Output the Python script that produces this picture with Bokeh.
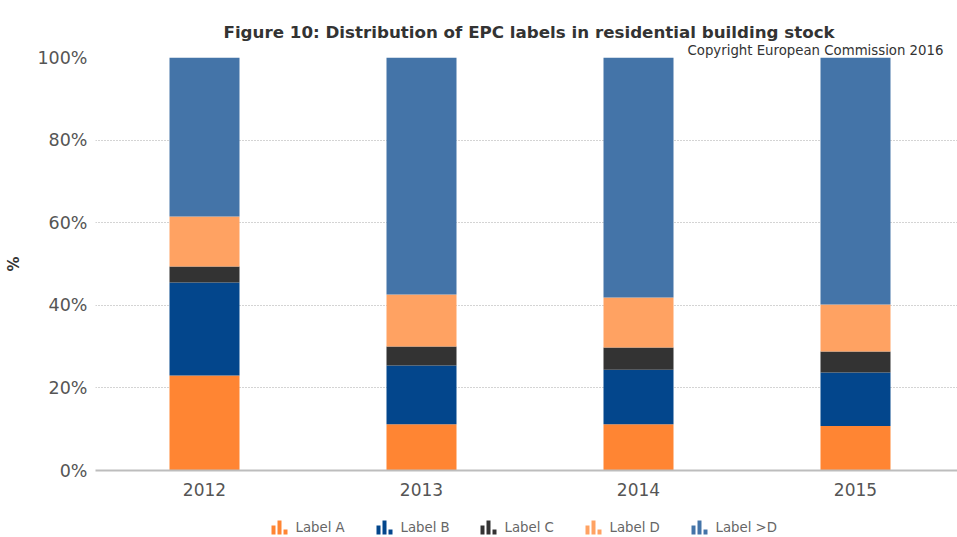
from bokeh.embed import file_html
from bokeh.resources import INLINE
from bokeh.layouts import column
from bokeh.plotting import figure
from bokeh.core.properties import value
from bokeh.models import (ColumnDataSource, Range1d, FixedTicker, Title)

years = [2012, 2013, 2014, 2015]
label_a = [23.0, 11.2, 11.2, 10.8]
label_b = [22.5, 14.2, 13.2, 12.9]
label_c = [3.9, 4.6, 5.4, 5.1]
label_d = [12.1, 12.6, 12.1, 11.4]
label_e = [38.5, 57.4, 58.1, 59.8]
series_names = ["Label A", "Label B", "Label C", "Label D", "Label >D"]
series_colors = ["#FF8533", "#03468C", "#333333", "#FFA262", "#4474A8"]
y_ticks = [0, 20, 40, 60, 80, 100]
title_text = "Figure 10: Distribution of EPC labels in residential building stock"
copyright_text = "Copyright European Commission 2016"

W = 957
LEG_H = 32
H = 537 - LEG_H
LEFT, TOP, BOTTOM = 95, 57, H - 470
FONT = "DejaVu Sans"

p = figure(width=W, height=H, output_backend="svg", toolbar_location=None,
           x_range=Range1d(2012 - 109 / 217, 2012 + 753 / 217), y_range=Range1d(0, 100),
           min_border_left=LEFT, min_border_right=0, min_border_top=TOP, min_border_bottom=BOTTOM)
p.outline_line_color = None
p.background_fill_color = "white"

src = ColumnDataSource(dict(year=years, a=label_a, b=label_b, c=label_c, d=label_d, e=label_e))
p.vbar_stack(["a", "b", "c", "d", "e"], x="year", width=70 / 217, source=src,
             color=series_colors, line_color=None)

p.xgrid.visible = False
p.ygrid.grid_line_color = "#A8A8A8"
p.ygrid.grid_line_dash = "1 2"
p.ygrid.grid_line_width = 1
p.ygrid.ticker = FixedTicker(ticks=[t for t in y_ticks if t > 0])

p.xaxis.ticker = FixedTicker(ticks=years)
p.xaxis.major_tick_line_color = None
p.xaxis.minor_tick_line_color = None
p.xaxis.major_tick_out = 0
p.xaxis.axis_line_color = "#BDBDBD"
p.xaxis.axis_line_width = 2
p.xaxis.major_label_text_font = FONT
p.xaxis.major_label_text_font_size = "17px"
p.xaxis.major_label_text_color = "#555555"
p.xaxis.major_label_standoff = 12

p.yaxis.ticker = FixedTicker(ticks=y_ticks)
p.yaxis.major_label_overrides = {t: f"{t}%" for t in y_ticks}
p.yaxis.major_tick_line_color = None
p.yaxis.minor_tick_line_color = None
p.yaxis.major_tick_out = 0
p.yaxis.axis_line_color = None
p.yaxis.major_label_text_font = FONT
p.yaxis.major_label_text_font_size = "17.5px"
p.yaxis.major_label_text_color = "#555555"
p.yaxis.major_label_standoff = 8
p.yaxis.axis_label = "%"
p.yaxis.axis_label_text_font = FONT
p.yaxis.axis_label_text_font_style = "bold"
p.yaxis.axis_label_text_font_size = "15px"
p.yaxis.axis_label_text_color = "#333333"
p.yaxis.axis_label_standoff = 11

# titles stacked above the frame: first added sits nearest the frame
p.add_layout(Title(text=copyright_text, align="left", offset=592, standoff=0, text_line_height=0.2,
                   text_font=FONT, text_font_size="13.3px", text_font_style="normal", text_color="#333333"), "above")
p.add_layout(Title(text=title_text, align="left", offset=128, standoff=-2, text_line_height=0.7,
                   text_font=FONT, text_font_size="16.7px", text_font_style="bold", text_color="#333333"), "above")

# legend strip below the chart, in page-pixel coordinates
leg = figure(width=W, height=LEG_H, output_backend="svg", toolbar_location=None,
             x_range=Range1d(LEFT, W), y_range=Range1d(537, 537 - LEG_H),
             min_border=0, outline_line_color=None)
leg.axis.visible = False
leg.grid.visible = False
legend_x = [271, 376, 480, 585, 691]
LEG_Y = 527
for name, color, x0 in zip(series_names, series_colors, legend_x):
    lefts = [x0, x0 + 6, x0 + 12]
    leg.quad(left=lefts, right=[v + 4 for v in lefts],
             top=[LEG_Y - 2, LEG_Y - 7, LEG_Y + 2], bottom=[LEG_Y + 7] * 3,
             fill_color=color, line_color=None)
    leg.text(x=[x0 + 24], y=[LEG_Y], text=[name], text_font=value(FONT), text_font_size="13.3px",
             text_color="#666666", text_baseline="middle", text_align="left")

open("out.html", "w").write(file_html(column(p, leg, spacing=0), INLINE))
